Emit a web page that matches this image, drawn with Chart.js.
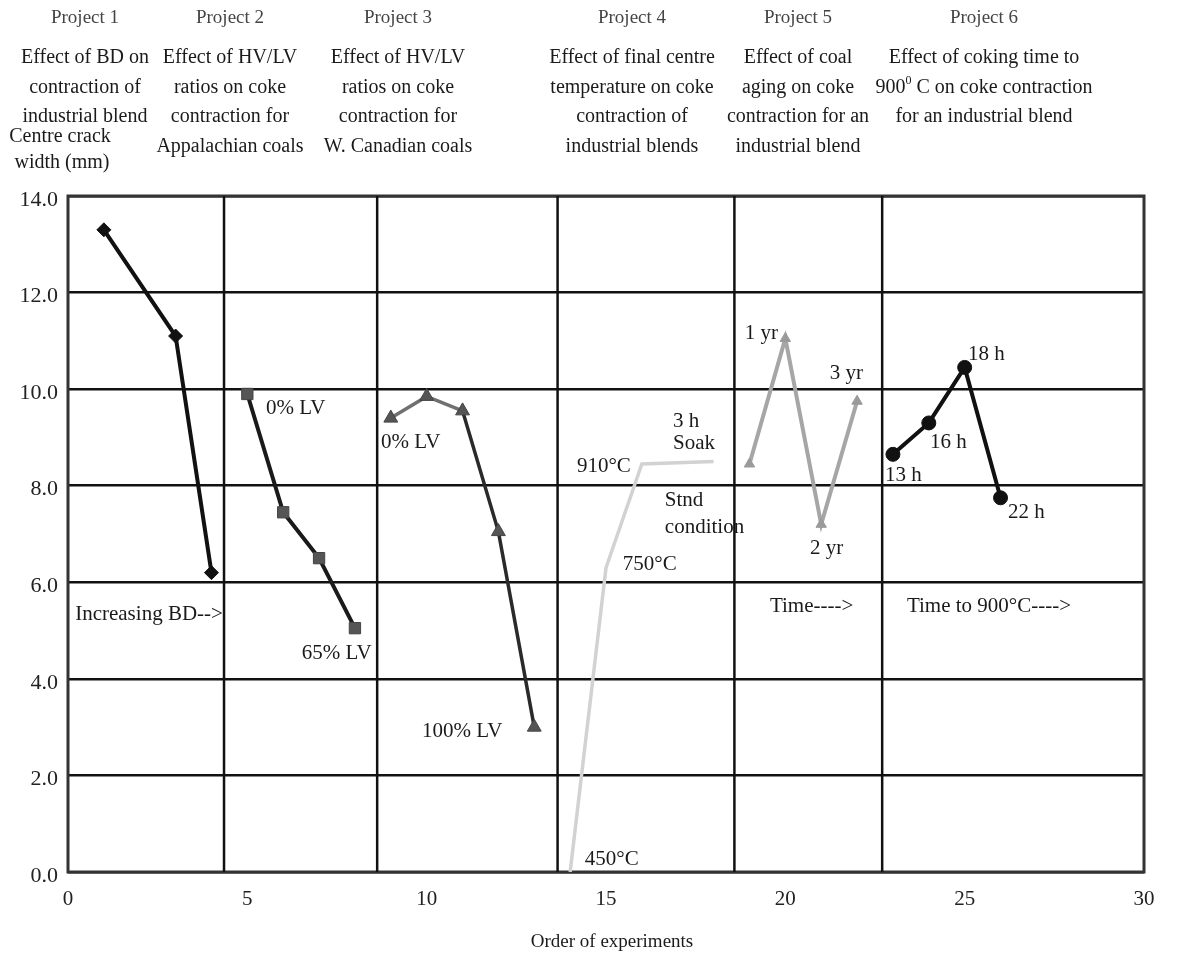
<!DOCTYPE html>
<html>
<head>
<meta charset="utf-8">
<script src="https://cdn.jsdelivr.net/npm/chart.js@4.4.0/dist/chart.umd.min.js"></script>
<style>
  html, body { margin: 0; padding: 0; background: #fff; }
  #wrap { width: 1191px; height: 955px; }
</style>
</head>
<body>
<div id="wrap"><canvas id="chart" width="1191" height="955"></canvas></div>
<script>
// ─── DATA ────────────────────────────────────────────────────
// order of experiment vs centre crack width (mm), one series per project
const p1X = [1, 3, 4];
const p1Y = [13.3, 11.1, 6.2];
const p2X = [5, 6, 7, 8];
const p2Y = [9.9, 7.45, 6.5, 5.05];
const p3X = [9, 10, 11, 12, 13];
const p3Y = [9.4, 9.85, 9.55, 7.05, 3.0];
const p4X = [14, 15, 16, 18];
const p4Y = [0.0, 6.3, 8.45, 8.5];
const p5X = [19, 20, 21, 22];
const p5Y = [8.45, 11.05, 7.2, 9.75];
const p6X = [23, 24, 25, 26];
const p6Y = [8.65, 9.3, 10.45, 7.75];

// project boundaries along the x axis
const dividerX = [4.35, 8.62, 13.65, 18.58, 22.7];

const xMin = 0, xMax = 30, xStep = 5;
const yMin = 0, yMax = 14, yStep = 2;

const projectTitles = ['Project 1', 'Project 2', 'Project 3', 'Project 4', 'Project 5', 'Project 6'];
const projectNotes = [
  ['Effect of BD on', 'contraction of', 'industrial blend'],
  ['Effect of HV/LV', 'ratios on coke', 'contraction for', 'Appalachian coals'],
  ['Effect of HV/LV', 'ratios on coke', 'contraction for', 'W. Canadian coals'],
  ['Effect of final centre', 'temperature on coke', 'contraction of', 'industrial blends'],
  ['Effect of coal', 'aging on coke', 'contraction for an', 'industrial blend'],
  ['Effect of coking time to', '900|0| C on coke contraction', 'for an industrial blend']
];

// in-plot labels, anchored at their left edge in data units
const pointLabels = [
  ['Increasing BD-->', 0.2, 5.34],
  ['0% LV', 5.52, 9.59],
  ['65% LV', 6.52, 4.53],
  ['0% LV', 8.73, 8.9],
  ['100% LV', 9.87, 2.9],
  ['3 h', 16.87, 9.32],
  ['Soak', 16.87, 8.88],
  ['910°C', 14.19, 8.39],
  ['Stnd', 16.64, 7.7],
  ['condition', 16.64, 7.14],
  ['750°C', 15.47, 6.36],
  ['450°C', 14.41, 0.25],
  ['1 yr', 18.87, 11.16],
  ['3 yr', 21.24, 10.33],
  ['2 yr', 20.69, 6.71],
  ['Time---->', 19.57, 5.49],
  ['Time to 900°C---->', 23.39, 5.49],
  ['13 h', 22.78, 8.22],
  ['16 h', 24.03, 8.9],
  ['18 h', 25.09, 10.71],
  ['22 h', 26.21, 7.45]
];

// ─── HELPERS ─────────────────────────────────────────────────
const SERIF = '"Liberation Serif", "Times New Roman", serif';

function pts(xs, ys) {
  return xs.map((x, i) => ({ x: x, y: ys[i] }));
}

function series(xs, ys, style) {
  return Object.assign({
    data: pts(xs, ys),
    showLine: true,
    borderWidth: 4,
    pointBorderWidth: 1,
    tension: 0,
    order: 1
  }, style);
}

// draws text with optional |superscript| parts, centred on cx
function drawRich(ctx, str, cx, y, size) {
  const parts = str.split('|');
  const big = size + 'px ' + SERIF;
  const small = Math.round(size * 0.6) + 'px ' + SERIF;
  let total = 0;
  parts.forEach((p, i) => {
    ctx.font = i % 2 ? small : big;
    total += ctx.measureText(p).width;
  });
  let x = cx - total / 2;
  ctx.textAlign = 'left';
  parts.forEach((p, i) => {
    ctx.font = i % 2 ? small : big;
    ctx.fillText(p, x, i % 2 ? y - size * 0.35 : y);
    x += ctx.measureText(p).width;
  });
}

// ─── PLUGINS ─────────────────────────────────────────────────
const frame = {
  id: 'frame',
  beforeDatasetsDraw(chart) {
    const { ctx, chartArea: a } = chart;
    ctx.save();
    ctx.strokeStyle = '#333';
    ctx.lineWidth = 3;
    ctx.strokeRect(a.left, a.top, a.right - a.left, a.bottom - a.top);
    ctx.restore();
  }
};

const titleCols = [85, 230, 398, 632, 798, 984];

const texts = {
  id: 'texts',
  afterDraw(chart) {
    const { ctx } = chart;
    const sx = chart.scales.x, sy = chart.scales.y;
    ctx.save();
    ctx.textBaseline = 'middle';

    // project headings
    ctx.fillStyle = '#444';
    ctx.font = '19px ' + SERIF;
    ctx.textAlign = 'center';
    projectTitles.forEach((t, i) => ctx.fillText(t, titleCols[i], 18));

    ctx.fillStyle = '#1a1a1a';
    projectNotes.forEach((lines, i) => {
      lines.forEach((ln, j) => drawRich(ctx, ln, titleCols[i], 58 + j * 29.5, 20));
    });

    // axis titles
    ctx.font = '20px ' + SERIF;
    ctx.textAlign = 'center';
    ctx.fillText('Centre crack', 60, 137);
    ctx.fillText('width (mm)', 62, 163);
    ctx.font = '19px ' + SERIF;
    ctx.fillText('Order of experiments', 612, 942);

    // labels beside the points
    ctx.font = '21px ' + SERIF;
    ctx.textAlign = 'left';
    pointLabels.forEach(([t, x, y]) => {
      ctx.fillText(t, sx.getPixelForValue(x), sy.getPixelForValue(y));
    });
    ctx.restore();
  }
};

// ─── CHART ───────────────────────────────────────────────────
const dividers = dividerX.map(x => ({
  data: [{ x: x, y: yMin }, { x: x, y: yMax }],
  showLine: true,
  borderColor: '#111',
  borderWidth: 2.5,
  pointRadius: 0,
  order: 10
}));

new Chart(document.getElementById('chart'), {
  type: 'scatter',
  data: {
    datasets: [
      ...dividers,
      series(p1X, p1Y, { borderColor: '#111', pointStyle: 'rectRot', pointRadius: 7, pointBackgroundColor: '#111', pointBorderColor: '#111' }),
      series(p2X, p2Y, { borderColor: '#1a1a1a', pointStyle: 'rect', pointRadius: 8, pointBackgroundColor: '#555', pointBorderColor: '#444' }),
      series(p3X, p3Y, {
        borderColor: '#2a2a2a', borderWidth: 3.5, pointStyle: 'triangle', pointRadius: 8,
        pointBackgroundColor: '#555', pointBorderColor: '#444',
        segment: { borderColor: c => c.p0DataIndex < 2 ? '#707070' : '#2a2a2a' }
      }),
      series(p4X, p4Y, { borderColor: '#d2d2d2', borderWidth: 3.5, pointRadius: 0 }),
      series(p5X, p5Y, { borderColor: '#a6a6a6', borderWidth: 4, pointStyle: 'triangle', pointRadius: 6, pointBackgroundColor: '#9a9a9a', pointBorderColor: '#9a9a9a' }),
      series(p6X, p6Y, { borderColor: '#111', pointStyle: 'circle', pointRadius: 7, pointBackgroundColor: '#111', pointBorderColor: '#111' })
    ]
  },
  options: {
    responsive: false,
    animation: false,
    devicePixelRatio: 1,
    layout: { padding: { top: 196, right: 47, left: 0, bottom: 0 } },
    plugins: {
      legend: { display: false },
      tooltip: { enabled: false }
    },
    scales: {
      x: {
        type: 'linear',
        min: xMin,
        max: xMax,
        afterFit: s => { s.height = 83; },
        grid: { display: false },
        border: { display: false },
        ticks: {
          stepSize: xStep,
          color: '#222',
          padding: 7,
          font: { family: SERIF, size: 21 }
        }
      },
      y: {
        type: 'linear',
        min: yMin,
        max: yMax,
        afterFit: s => { s.width = 68; },
        grid: { color: '#111', lineWidth: 2.5, drawTicks: false },
        border: { display: false },
        ticks: {
          stepSize: yStep,
          color: '#222',
          padding: 10,
          labelOffset: 4,
          font: { family: SERIF, size: 22 },
          callback: v => v.toFixed(1)
        }
      }
    }
  },
  plugins: [frame, texts]
});
</script>
</body>
</html>
